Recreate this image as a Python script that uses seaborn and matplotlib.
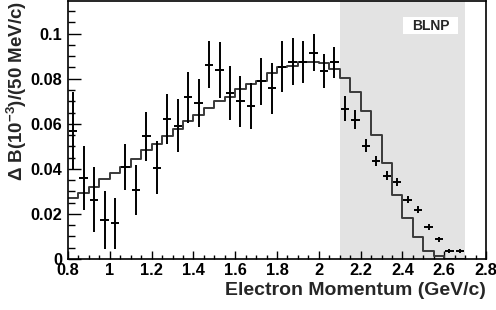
import numpy as np
import pandas as pd
import matplotlib
matplotlib.use("Agg")
import matplotlib.pyplot as plt
import seaborn as sns
from matplotlib.ticker import MultipleLocator
from matplotlib.patches import Rectangle

# ---- data ----
bin_edges = [round(0.80 + 0.05 * i, 3) for i in range(39)]
bin_centers = [round(0.825 + 0.05 * i, 3) for i in range(38)]

data_values = [0.0568, 0.0361, 0.0264, 0.0173, 0.0158, 0.0409, 0.0305, 0.0544,
               0.0406, 0.0621, 0.0592, 0.0717, 0.0692, 0.0863, 0.0838, 0.0737,
               0.0699, 0.0680, 0.0789, 0.0757, 0.0854, 0.0876, 0.0873, 0.0916,
               0.0835, 0.0873, 0.0667, 0.0619, 0.0503, 0.0434, 0.0369, 0.0342,
               0.0264, 0.0218, 0.0143, 0.0087, 0.0035, 0.0035]
data_errors = [0.0175, 0.0142, 0.0144, 0.0128, 0.0112, 0.0102, 0.0110, 0.0108,
               0.0116, 0.0110, 0.0116, 0.0112, 0.0108, 0.0106, 0.0124, 0.0120,
               0.0115, 0.0103, 0.0105, 0.0112, 0.0113, 0.0105, 0.0094, 0.0083,
               0.0076, 0.0068, 0.0055, 0.0044, 0.0030, 0.0022, 0.0020, 0.0016,
               0.0016, 0.0015, 0.0013, 0.0012, 0.0010, 0.0010]
mc_values = [0.0269, 0.0291, 0.0320, 0.0355, 0.0382, 0.0409, 0.0444, 0.0482,
             0.0512, 0.0546, 0.0578, 0.0611, 0.0637, 0.0671, 0.0699, 0.0721,
             0.0755, 0.0777, 0.0792, 0.0824, 0.0851, 0.0858, 0.0873, 0.0873,
             0.0870, 0.0843, 0.0804, 0.0740, 0.0659, 0.0549, 0.0428, 0.0286,
             0.0180, 0.0096, 0.0037, 0.0013, 0.0, 0.0]

x_label = "Electron Momentum (GeV/c)"
y_label = r"$\Delta$ B(10$^{\mathbf{-3}}$)/(50 MeV/c)"
region_label = "BLNP"
region = (2.1, 2.7)
x_tick_labels = ["0.8", "1", "1.2", "1.4", "1.6", "1.8", "2", "2.2", "2.4", "2.6", "2.8"]
y_tick_labels = ["0", "0.02", "0.04", "0.06", "0.08", "0.1"]

df = pd.DataFrame({"p": bin_centers, "mc": mc_values,
                   "val": data_values, "err": data_errors})

# ---- style ----
sns.set_theme(style="white")
plt.rcParams["font.family"] = ["Liberation Sans", "DejaVu Sans"]
plt.rcParams["font.weight"] = "bold"
plt.rcParams["mathtext.fontset"] = "custom"
plt.rcParams["mathtext.rm"] = "Liberation Sans:bold"
plt.rcParams["mathtext.bf"] = "Liberation Sans:bold"
plt.rcParams["mathtext.it"] = "Liberation Sans:bold"

fig = plt.figure(figsize=(4.96, 3.10), dpi=100)
ax = fig.add_axes([68 / 496, 1 - 259 / 310, (486 - 68) / 496, 258 / 310])

ax.axvspan(region[0], region[1], color="#e3e3e3", lw=0, zorder=0)

sns.histplot(data=df, x="p", weights="mc", bins=bin_edges, element="step",
             fill=False, color="#3a3a3a", linewidth=1.4, ax=ax, zorder=2)

ax.errorbar(df["p"], df["val"], yerr=df["err"], xerr=0.02, fmt="none",
            ecolor="black", elinewidth=1.4, capsize=0, zorder=3)

ax.set_xlim(0.8, 2.8)
ax.set_ylim(0, 0.1145)
ax.set_xticks([float(t) for t in x_tick_labels])
ax.set_xticklabels(x_tick_labels)
ax.set_yticks([float(t) for t in y_tick_labels])
ax.set_yticklabels(y_tick_labels)
ax.xaxis.set_minor_locator(MultipleLocator(0.05))
ax.yaxis.set_minor_locator(MultipleLocator(0.005))

ax.tick_params(axis="both", which="both", direction="in", left=True, bottom=True,
               top=False, right=False, labelsize=11.8, colors="black")
ax.tick_params(axis="y", which="major", length=9.5, width=1, pad=4)
ax.tick_params(axis="y", which="minor", length=5, width=1)
ax.tick_params(axis="x", which="major", length=5.5, width=1, pad=3)
ax.tick_params(axis="x", which="minor", length=3, width=1)
for lab in ax.get_xticklabels() + ax.get_yticklabels():
    lab.set_fontweight("bold")

for s in ax.spines.values():
    s.set_visible(True)
    s.set_color("black")
    s.set_linewidth(1.2)

ax.set_xlabel(x_label, fontsize=14, fontweight="bold", loc="right", labelpad=3)
ax.set_ylabel(y_label, fontsize=13.5, fontweight="bold", loc="top", labelpad=1)

ax.add_patch(Rectangle((0.801, 0.872), 0.1316, 0.066, transform=ax.transAxes,
                       facecolor="white", edgecolor="none", zorder=4))
ax.text(0.867, 0.905, region_label, transform=ax.transAxes, fontsize=10,
        fontweight="bold", ha="center", va="center", zorder=5)

fig.savefig("out.png", dpi=100)
